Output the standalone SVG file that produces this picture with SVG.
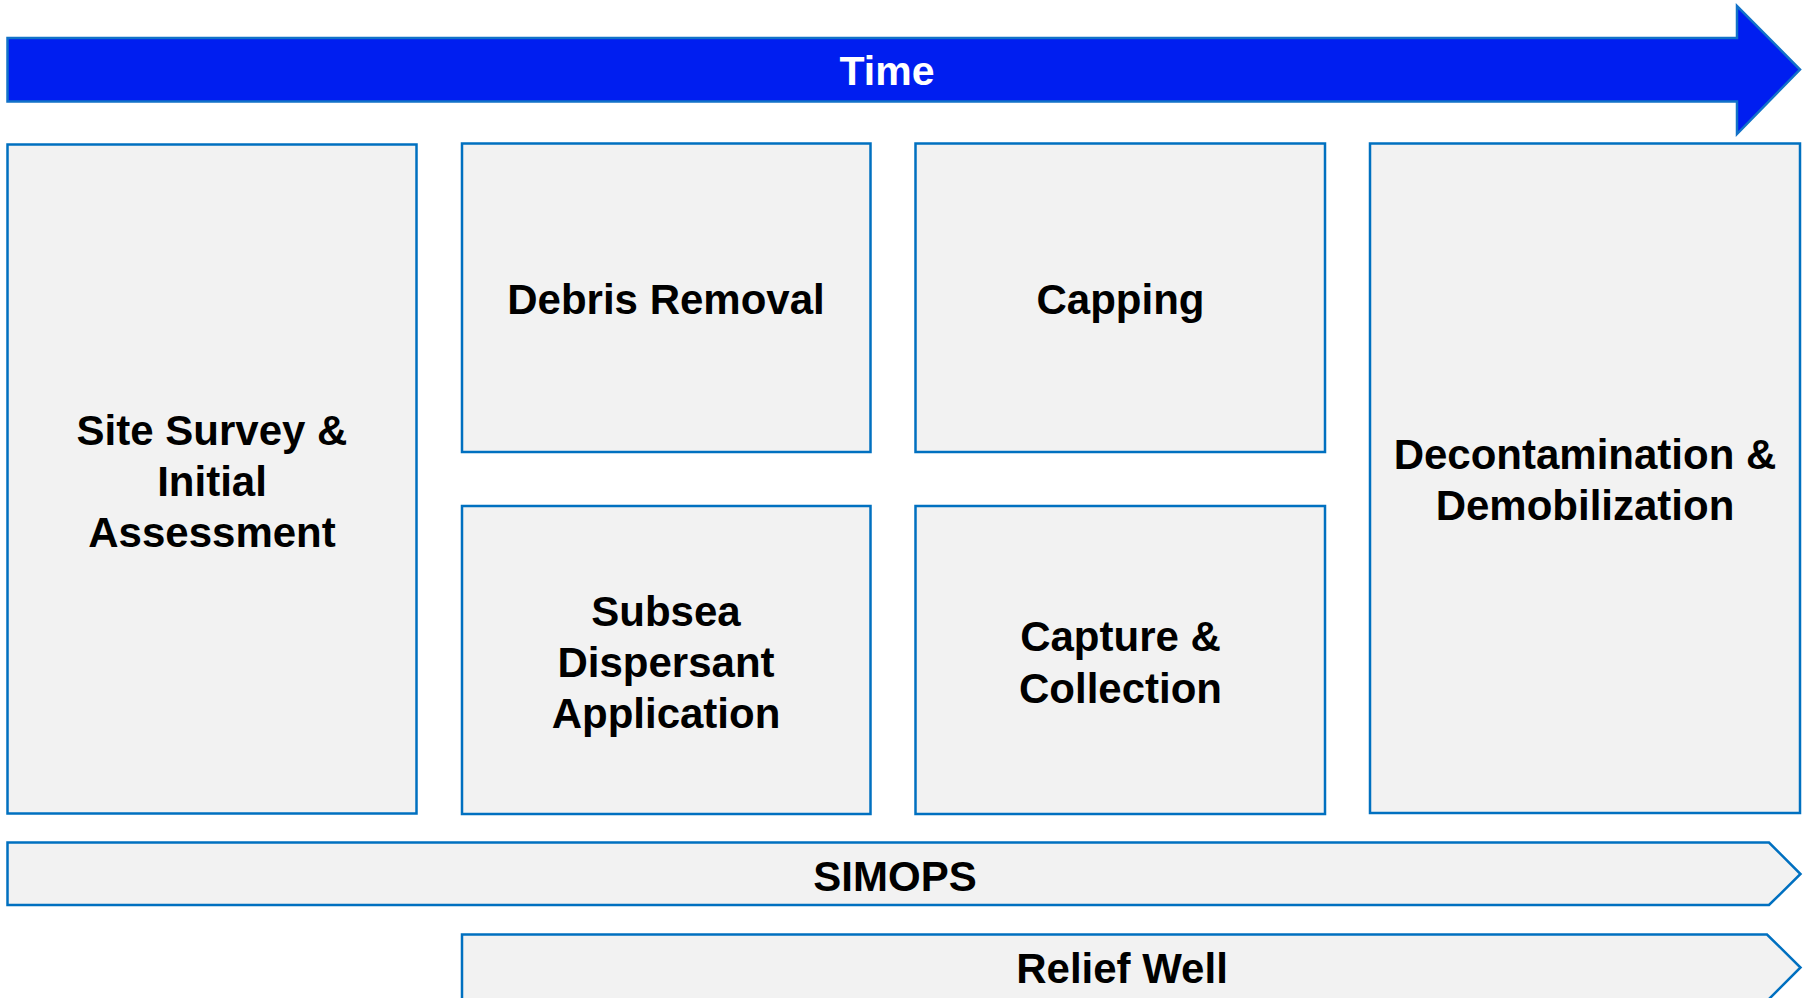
<svg xmlns="http://www.w3.org/2000/svg" width="1807" height="998" viewBox="0 0 1807 998">
<style>
.box{fill:#F2F2F2;stroke:#0070C0;stroke-width:2.5}
.lbl{font-family:"Liberation Sans",Arial,sans-serif;font-weight:bold;font-size:42px;fill:#000;text-anchor:middle}
.time{fill:#001EF0;stroke:#1272C8;stroke-width:2.5}
.tlbl{font-family:"Liberation Sans",Arial,sans-serif;font-weight:bold;font-size:41px;fill:#fff;text-anchor:middle}
</style>
<rect width="1807" height="998" fill="#fff"/>
<g id="time">
<polygon class="time" points="7.5,38 1737,38 1737,6 1800,69.5 1737,134 1737,101.5 7.5,101.5"/>
<text class="tlbl" x="887" y="85">Time</text>
</g>
<g id="site-survey">
<rect class="box" x="7.5" y="144.5" width="409" height="669"/>
<text class="lbl" x="212" y="445">Site Survey &amp;</text>
<text class="lbl" x="212" y="496">Initial</text>
<text class="lbl" x="212" y="547">Assessment</text>
</g>
<g id="debris-removal">
<rect class="box" x="462" y="143.5" width="408.5" height="308.5"/>
<text class="lbl" x="666" y="314">Debris Removal</text>
</g>
<g id="capping">
<rect class="box" x="915.5" y="143.5" width="409.5" height="308.5"/>
<text class="lbl" x="1120.5" y="314">Capping</text>
</g>
<g id="subsea-dispersant">
<rect class="box" x="462" y="506" width="408.5" height="308"/>
<text class="lbl" x="666" y="626">Subsea</text>
<text class="lbl" x="666" y="677">Dispersant</text>
<text class="lbl" x="666" y="728">Application</text>
</g>
<g id="capture-collection">
<rect class="box" x="915.5" y="506" width="409.5" height="308"/>
<text class="lbl" x="1120.5" y="651">Capture &amp;</text>
<text class="lbl" x="1120.5" y="703">Collection</text>
</g>
<g id="decontamination">
<rect class="box" x="1370" y="143.5" width="430" height="669.5"/>
<text class="lbl" x="1585" y="469">Decontamination &amp;</text>
<text class="lbl" x="1585" y="520">Demobilization</text>
</g>
<g id="simops">
<polygon class="box" points="7.5,842.5 1769,842.5 1800.5,874 1769,905 7.5,905"/>
<text class="lbl" x="895" y="891">SIMOPS</text>
</g>
<g id="relief-well">
<polygon class="box" points="462,934.5 1767,934.5 1800.5,967.5 1767,1001 462,1001"/>
<text class="lbl" x="1122" y="983">Relief Well</text>
</g>
<g id="connectors"></g>
</svg>
